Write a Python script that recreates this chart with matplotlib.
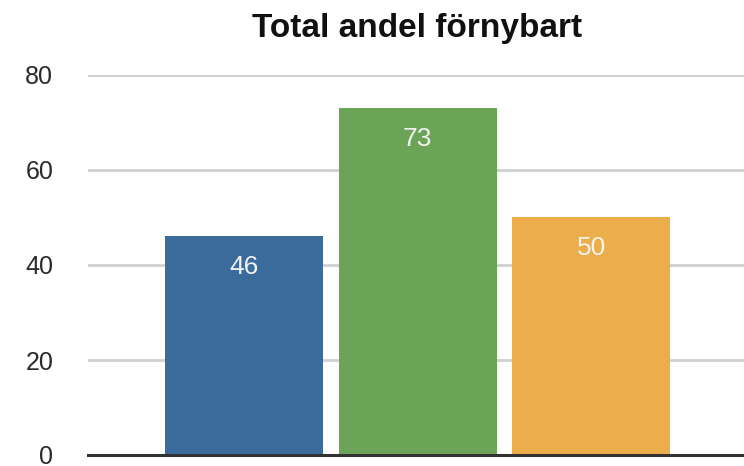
import numpy as np
import matplotlib.pyplot as plt

plt.rcParams['font.family'] = ['Liberation Sans', 'DejaVu Sans']

TITLE = "Total andel förnybart"
values = [46, 73, 50]
colors = ["#3a6b9b", "#6ba457", "#ecae4b"]
yticks = [0, 20, 40, 60, 80]

W, H = 744, 466
fig = plt.figure(figsize=(W / 100, H / 100), dpi=100)
ax = fig.add_axes([88 / W, 1 - 455 / H, 1 - 88 / W, (455 - 75) / H])

x = np.arange(len(values))
bars = ax.bar(x, values, width=0.91, color=colors, zorder=3)

for b, v in zip(bars, values):
    ax.annotate(str(v), (b.get_x() + b.get_width() / 2, v),
                xytext=(0, -31), textcoords='offset pixels',
                ha='center', va='center', color='#f2f2f2', fontsize=19, zorder=4)

ax.set_xlim(-0.90, 2.88)
ax.set_ylim(0, 80)
ax.set_yticks(yticks)
ax.set_xticks([])
ax.tick_params(axis='y', length=0, pad=25, labelsize=18, labelcolor='#2a2a2a')
ax.grid(axis='y', color='#d0d0d0', linewidth=2, zorder=0)
for s in ['top', 'right', 'left']:
    ax.spines[s].set_visible(False)
ax.spines['bottom'].set_color('#333333')
ax.spines['bottom'].set_linewidth(2.2)
ax.spines['bottom'].set_zorder(5)

fig.text(417 / W, 1 - 28 / H, TITLE, ha='center', va='center',
         fontsize=24, fontweight='bold', color='#111111')

fig.savefig('out.png', dpi=100)
